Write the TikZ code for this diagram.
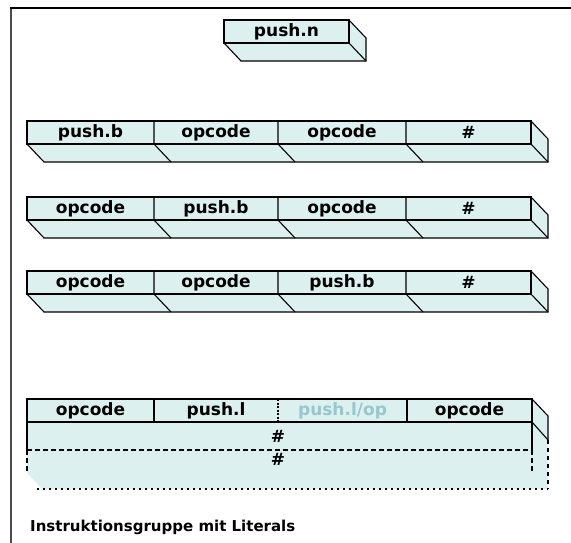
\documentclass[tikz,border=0pt]{standalone}
\usepackage{fontspec}
\setmainfont{DejaVu Sans}
\begin{document}
\begin{tikzpicture}[x=1pt,y=-1pt,
  brickfill/.style={fill={rgb,255:red,221;green,240;blue,240}},
  edge/.style={draw=black,line width=1.1pt,line join=miter},
  lbl/.style={font=\fontsize{17}{17}\selectfont\bfseries,inner sep=0pt,anchor=center},
  faint/.style={lbl,text={rgb,255:red,150;green,200;blue,205}}]
\useasboundingbox (0,0) rectangle (571,543);
% frame
\draw[line width=1.6pt,draw=black!70] (11,8) -- (11,543);
\draw[line width=2.6pt,draw=black] (10,8) -- (571,8);

\newcommand{\drawbrick}[4]{%
 \fill[brickfill] (#1,#2) rectangle (#3+17,#4+18);
 \fill[white] (#1,#4) -- (#1+17,#4+18) -- (#1,#4+18) -- cycle;
 \fill[white] (#3,#2) -- (#3+17,#2+18) -- (#3+17,#2) -- cycle;
 \draw[edge] (#1,#2) rectangle (#3,#4);
 \draw[edge] (#1,#4) -- (#1+17,#4+18) -- (#3+17,#4+18) -- (#3+17,#2+18) -- (#3,#2);
 \draw[edge] (#3,#4) -- (#3+17,#4+18);
}
\newcommand{\divider}[3]{%
 \draw[edge] (#1,#2) -- (#1,#3) -- (#1+17,#3+18);
}

% push.n
\drawbrick{224}{20}{349}{43}
\node[lbl] (pn) at (286.5,31.5) {push.n};

% row 1
\drawbrick{27}{121}{531}{144}
\divider{154}{121}{144}\divider{278}{121}{144}\divider{406}{121}{144}
\node[lbl] (a1) at (90.5,132.5) {push.b};
\node[lbl] (a2) at (216,132.5) {opcode};
\node[lbl] (a3) at (342,132.5) {opcode};
\node[lbl] (a4) at (468.5,132.5) {\#};

% row 2
\drawbrick{27}{197}{531}{220}
\divider{154}{197}{220}\divider{278}{197}{220}\divider{406}{197}{220}
\node[lbl] (b1) at (90.5,208.5) {opcode};
\node[lbl] (b2) at (216,208.5) {push.b};
\node[lbl] (b3) at (342,208.5) {opcode};
\node[lbl] (b4) at (468.5,208.5) {\#};

% row 3
\drawbrick{27}{271}{531}{294}
\divider{154}{271}{294}\divider{278}{271}{294}\divider{406}{271}{294}
\node[lbl] (c1) at (90.5,282.5) {opcode};
\node[lbl] (c2) at (216,282.5) {opcode};
\node[lbl] (c3) at (342,282.5) {push.b};
\node[lbl] (c4) at (468.5,282.5) {\#};

% literal group
\fill[brickfill] (27,399) -- (532,399) -- (548,416) -- (548,489) -- (42,489) -- (27,473) -- cycle;
\draw[edge] (27,399) rectangle (532,422);
\draw[edge] (154,399) -- (154,422);
\draw[edge,dash pattern=on 2pt off 1.5pt] (278,399) -- (278,422);
\draw[edge] (407,399) -- (407,422);
\draw[edge] (27,422) -- (27,450);
\draw[edge] (532,422) -- (532,450);
\draw[edge,dash pattern=on 5pt off 3pt] (27,450) -- (532,450);
\draw[edge,dash pattern=on 5pt off 3pt] (27,450) -- (27,473);
\draw[edge,dash pattern=on 5pt off 3pt] (532,450) -- (532,473);
\draw[edge] (532,399) -- (548,416) -- (548,440);
\draw[edge] (532,422) -- (548,440);
\draw[edge,dash pattern=on 4pt off 4pt] (548,440) -- (548,489);
\draw[edge,dash pattern=on 2pt off 4pt] (37,489) -- (548,489);
\node[lbl] (d1) at (90.5,410.5) {opcode};
\node[lbl] (d2) at (216,410.5) {push.l};
\node[faint] (d3) at (342.5,410.5) {push.l/op};
\node[lbl] (d4) at (469.5,410.5) {opcode};
\node[lbl] (h1) at (278,436) {\#};
\node[lbl] (h2) at (278,459) {\#};

% caption
\node[font=\fontsize{15}{15}\selectfont\bfseries,inner sep=0pt,anchor=west] (cap) at (30,527) {Instruktionsgruppe mit Literals};
\end{tikzpicture}
\end{document}
